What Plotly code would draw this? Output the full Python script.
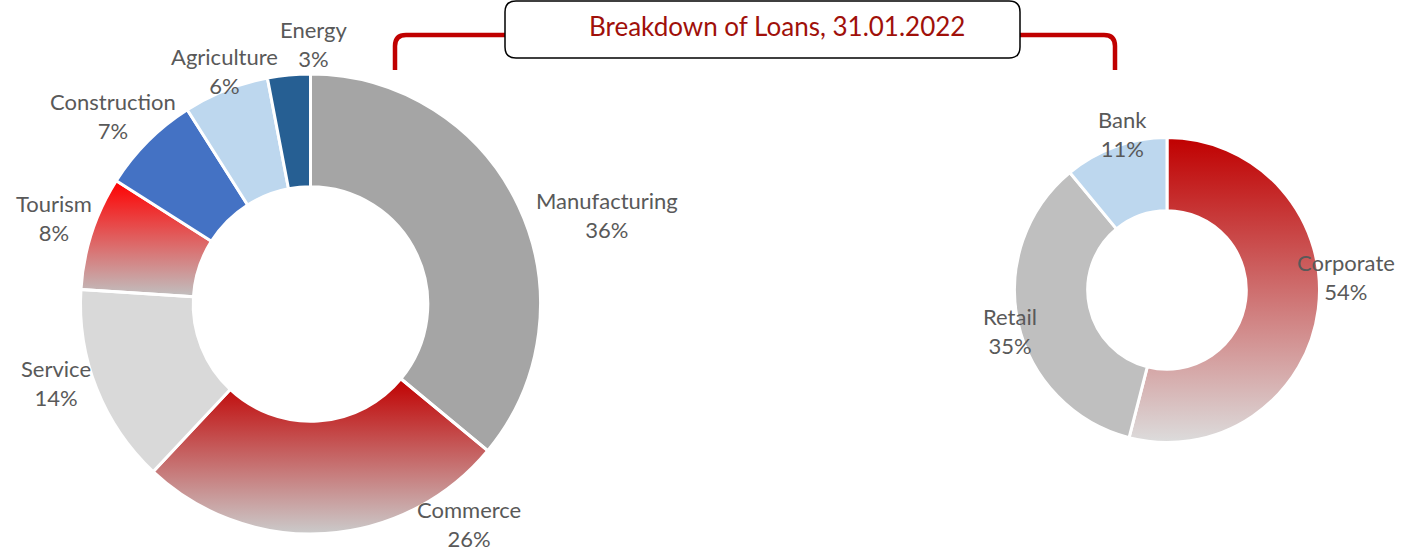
import math
import plotly.graph_objects as go

# ---------------- data ----------------
sector_labels = ["Manufacturing", "Commerce", "Service", "Tourism",
                 "Construction", "Agriculture", "Energy"]
sector_values = [36, 26, 14, 8, 7, 6, 3]

segment_labels = ["Corporate", "Retail", "Bank"]
segment_values = [54, 35, 11]

title_text = "Breakdown of Loans, 31.01.2022"

# ---------------- styling / layout constants ----------------
W, H = 1401, 552
FONT = "Lato"
LABEL_COLOR = "#595959"
LABEL_SIZE = 22
TITLE_COLOR = "#A0100A"
BRACKET_COLOR = "#C00000"

SOLID_COLORS = {
    "Manufacturing": "#A5A5A5",
    "Service": "#D9D9D9",
    "Construction": "#4472C4",
    "Agriculture": "#BDD7EE",
    "Energy": "#265F93",
    "Retail": "#BFBFBF",
    "Bank": "#BDD7EE",
}
# top colour -> bottom colour of the vertical gradient fills
GRADIENTS = {
    "Commerce": ("#C00000", "#CBCBCB"),
    "Tourism": ("#FF0000", "#C0C0C0"),
    "Corporate": ("#C00000", "#DCDCDC"),
}

# donut geometry in pixel units (x to the right, y downward)
LEFT = dict(cx=310.5, cy=304.0, r=230.0, hole=0.51)
RIGHT = dict(cx=1167.0, cy=290.0, r=152.5, hole=0.52)

# centre of each two-line label block
LABEL_POS = {
    "Manufacturing": (607, 215),
    "Commerce": (469, 524),
    "Service": (56, 383),
    "Tourism": (54, 218),
    "Construction": (113, 116),
    "Agriculture": (224, 71),
    "Energy": (313, 44),
    "Corporate": (1346, 277),
    "Retail": (1010, 331),
    "Bank": (1122, 134),
}


def wedge_path(cx, cy, r_out, r_in, a0, a1, n=160):
    """Closed ring segment; angles in degrees clockwise from 12 o'clock."""
    xs, ys = [], []
    for i in range(n + 1):
        a = math.radians(a0 + (a1 - a0) * i / n)
        xs.append(cx + r_out * math.sin(a))
        ys.append(cy - r_out * math.cos(a))
    for i in range(n, -1, -1):
        a = math.radians(a0 + (a1 - a0) * i / n)
        xs.append(cx + r_in * math.sin(a))
        ys.append(cy - r_in * math.cos(a))
    xs.append(xs[0])
    ys.append(ys[0])
    return xs, ys


def add_donut(fig, labels, values, geo):
    cx, cy, r, hole = geo["cx"], geo["cy"], geo["r"], geo["hole"]
    total = float(sum(values))

    # gradient slices are drawn underneath as filled shapes on the pixel axes
    start = 0.0
    for lab, val in zip(labels, values):
        sweep = 360.0 * val / total
        if lab in GRADIENTS:
            top, bottom = GRADIENTS[lab]
            xs, ys = wedge_path(cx, cy, r, r * hole, start, start + sweep)
            fig.add_trace(go.Scatter(
                x=xs, y=ys, mode="lines", fill="toself",
                line=dict(width=0, color="rgba(0,0,0,0)"),
                fillgradient=dict(type="vertical",
                                  colorscale=[[0, top], [1, bottom]],
                                  start=min(ys), stop=max(ys)),
                hoverinfo="skip", showlegend=False,
            ))
        start += sweep

    colors = [SOLID_COLORS.get(lab, "rgba(0,0,0,0)") for lab in labels]
    fig.add_trace(go.Pie(
        labels=labels, values=values, sort=False,
        direction="clockwise", rotation=0, hole=hole,
        marker=dict(colors=colors, line=dict(color="white", width=3)),
        textinfo="none", showlegend=False,
        domain=dict(x=[(cx - r) / W, (cx + r) / W],
                    y=[(H - cy - r) / H, (H - cy + r) / H]),
    ))

    for lab, val in zip(labels, values):
        x, y = LABEL_POS[lab]
        fig.add_annotation(
            x=x, y=y, xref="x", yref="y", showarrow=False,
            text=f"{lab}<br>{val}%", align="center",
            font=dict(family=FONT, size=LABEL_SIZE, color=LABEL_COLOR),
        )


fig = go.Figure()
add_donut(fig, sector_labels, sector_values, LEFT)
add_donut(fig, segment_labels, segment_values, RIGHT)

# red bracket joining the title box to both charts
fig.add_shape(type="path", xref="x", yref="y",
              path="M 395,70 L 395,46 Q 395,35 406,35 L 505,35",
              line=dict(color=BRACKET_COLOR, width=4.5))
fig.add_shape(type="path", xref="x", yref="y",
              path="M 1020,35 L 1104,35 Q 1115,35 1115,46 L 1115,70",
              line=dict(color=BRACKET_COLOR, width=4.5))

# rounded title box
fig.add_shape(type="path", xref="x", yref="y",
              path=("M 516,1 L 1009,1 Q 1020,1 1020,12 L 1020,47 "
                    "Q 1020,58 1009,58 L 516,58 Q 505,58 505,47 "
                    "L 505,12 Q 505,1 516,1 Z"),
              line=dict(color="black", width=1.5), fillcolor="white")
fig.add_annotation(x=777, y=26, xref="x", yref="y", showarrow=False,
                   text=title_text,
                   font=dict(family=FONT, size=26, color=TITLE_COLOR))

fig.update_layout(
    width=W, height=H,
    margin=dict(l=0, r=0, t=0, b=0),
    paper_bgcolor="white", plot_bgcolor="white",
    xaxis=dict(range=[0, W], visible=False, fixedrange=True),
    yaxis=dict(range=[H, 0], visible=False, fixedrange=True),
    showlegend=False,
)

fig.write_html("out.html")
